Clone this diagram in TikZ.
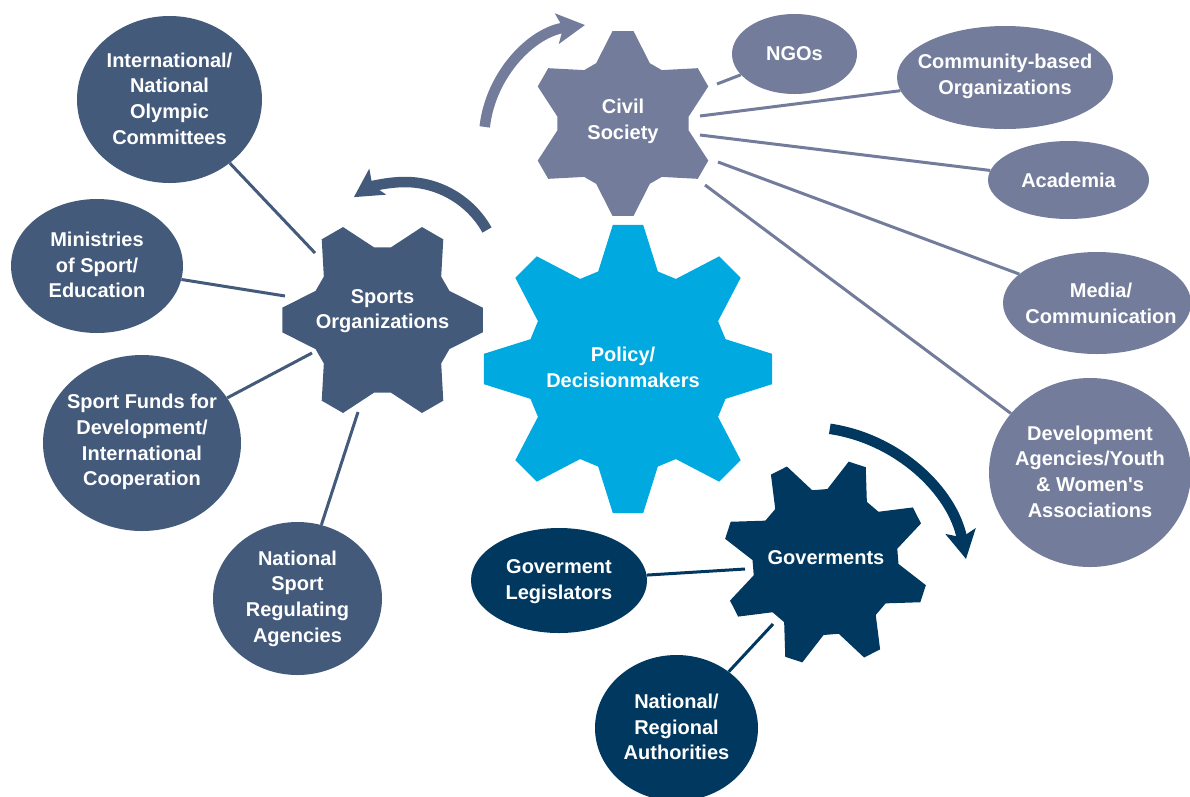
\documentclass[tikz,border=0pt]{standalone}
\usepackage{fontspec}
\setmainfont{Liberation Sans}[Ligatures=TeXOff]
\usetikzlibrary{shapes.geometric,arrows.meta}
\definecolor{sportc}{HTML}{435A7B}
\definecolor{civilc}{HTML}{737D9B}
\definecolor{policyc}{HTML}{00A9E0}
\definecolor{govc}{HTML}{013860}
% #1 centre coordinate, #2 last tooth index, #3 step angle, #4 outer radius,
% #5 root radius, #6 tip half-angle, #7 base half-angle, #8 offset, #9 colour
\newcommand\mygear[9]{%
  \fill[#9, shift={(#1)}] ({#8-#7}:#5)
    \foreach \k in {0,...,#2} {
      -- ({#8+\k*#3-#7}:#5) -- ({#8+\k*#3-#6}:#4)
      -- ({#8+\k*#3+#6}:#4) -- ({#8+\k*#3+#7}:#5)
    } -- cycle;%
}
\begin{document}
\begin{tikzpicture}[x=1pt,y=-1pt,
  ell/.style={ellipse, inner sep=0pt, draw=none},
  txt/.style={text=white, align=center, inner sep=0pt,
    font=\bfseries\fontsize{20}{25.7}\selectfont},
  conn/.style={line width=3pt},
  rotarrow/.style={line width=10.5pt, -{Stealth[length=28pt,width=30pt,inset=6pt]}}]
\useasboundingbox (0,0) rectangle (1190,796);

% gear centres
\coordinate (sportsC) at (382.5,320);
\coordinate (civilC) at (623,123.5);
\coordinate (policyC) at (628,369);
\coordinate (govC) at (825.5,562);

% ellipses
\node[ell, fill=sportc, minimum width=185pt, minimum height=167pt] (olympic) at (169.5,99.5) {};
\node[ell, fill=sportc, minimum width=172pt, minimum height=134pt] (ministries) at (97,266) {};
\node[ell, fill=sportc, minimum width=198pt, minimum height=176pt] (funds) at (142,443) {};
\node[ell, fill=sportc, minimum width=169pt, minimum height=153pt] (regul) at (297.5,598.5) {};
\node[ell, fill=civilc, minimum width=125pt, minimum height=80pt] (ngos) at (794.5,54) {};
\node[ell, fill=civilc, minimum width=216pt, minimum height=103pt] (community) at (1005,77.5) {};
\node[ell, fill=civilc, minimum width=161pt, minimum height=78pt] (academia) at (1068.5,180) {};
\node[ell, fill=civilc, minimum width=188pt, minimum height=102pt] (media) at (1097,303) {};
\node[ell, fill=civilc, minimum width=202pt, minimum height=189pt] (devel) at (1090,472.5) {};
\node[ell, fill=govc, minimum width=176pt, minimum height=105pt] (legis) at (559,580.5) {};
\node[ell, fill=govc, minimum width=163pt, minimum height=146pt] (author) at (676.5,728) {};

% connector start points near the gears
\coordinate (o1) at (315,253);
\coordinate (o2) at (285,296);
\coordinate (o3) at (312,353);
\coordinate (o4) at (358,412);
\coordinate (c1) at (717,84);
\coordinate (c2) at (700,116);
\coordinate (c3) at (700,135);
\coordinate (c4) at (718,162);
\coordinate (c5) at (705,185);
\coordinate (g1) at (745,569);
\coordinate (g2) at (773,624);

\draw[conn, sportc] (o1) -- (olympic);
\draw[conn, sportc] (o2) -- (ministries);
\draw[conn, sportc] (o3) -- (funds);
\draw[conn, sportc] (o4) -- (regul);
\draw[conn, civilc] (c1) -- (ngos);
\draw[conn, civilc] (c2) -- (community);
\draw[conn, civilc] (c3) -- (academia);
\draw[conn, civilc] (c4) -- (media);
\draw[conn, civilc] (c5) -- (devel);
\draw[conn, govc] (g1) -- (legis);
\draw[conn, govc] (g2) -- (author);

% gears
\mygear{sportsC}{5}{60}{101}{73}{7}{23.5}{0}{sportc}
\mygear{civilC}{5}{60}{93}{66}{6.5}{24}{30}{civilc}
\mygear{policyC}{7}{45}{145}{102}{6}{17}{0}{policyc}
\mygear{govC}{7}{45}{103}{73}{5}{16.5}{18}{govc}

% rotation arrows
\coordinate (aCivil) at (484.7,126.9);
\coordinate (aSports) at (487,230);
\coordinate (aGov) at (829.8,428.8);
\draw[rotarrow, civilc] (aCivil) arc[start angle=186.5, end angle=262.6, radius=116];
\draw[rotarrow, sportc] (aSports) arc[start angle=-29.3, end angle=-123, radius=94];
\draw[rotarrow, govc] (aGov) arc[start angle=-81.6, end angle=-11, radius=163];

% texts
\node[txt] (sportsT) at (382.5,311) {Sports\\Organizations};
\node[txt] (civilT) at (623,121) {Civil\\Society};
\node[txt] (policyT) at (623,367) {Policy/\\Decisionmakers};
\node[txt] (govT) at (826,558) {Goverments};

\node[txt] at ([yshift=1pt]olympic) {International/\\National\\Olympic\\Committees};
\node[txt] at ([yshift=1pt]ministries) {Ministries\\of Sport/\\Education};
\node[txt] at ([yshift=1pt]funds) {Sport Funds for\\Development/\\International\\Cooperation};
\node[txt] at (regul) {National\\Sport\\Regulating\\Agencies};
\node[txt] at (ngos) {NGOs};
\node[txt] at ([yshift=1pt]community) {Community-based\\Organizations};
\node[txt] at (academia) {Academia};
\node[txt] at ([xshift=4pt]media) {Media/\\Communication};
\node[txt] at ([yshift=1pt]devel) {Development\\Agencies/Youth\\\& Women's\\Associations};
\node[txt] at ([yshift=-1pt]legis) {Goverment\\Legislators};
\node[txt] at ([yshift=1pt]author) {National/\\Regional\\Authorities};
\end{tikzpicture}
\end{document}
